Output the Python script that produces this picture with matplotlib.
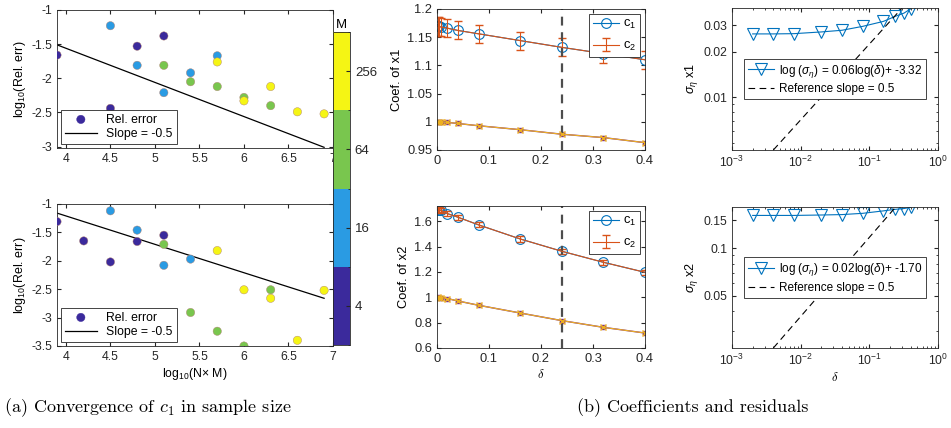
import numpy as np
import matplotlib
matplotlib.use('Agg')
import matplotlib.pyplot as plt
from matplotlib.colors import ListedColormap, BoundaryNorm
from matplotlib.ticker import FixedLocator, FuncFormatter, NullFormatter, LogLocator

plt.rcParams['font.family'] = ['Liberation Sans', 'DejaVu Sans']
plt.rcParams['mathtext.fontset'] = 'custom'
plt.rcParams['mathtext.rm'] = 'Liberation Sans'
plt.rcParams['mathtext.it'] = 'Liberation Sans:italic'
plt.rcParams['axes.unicode_minus'] = False
plt.rcParams['xtick.direction'] = 'in'
plt.rcParams['ytick.direction'] = 'in'
plt.rcParams['xtick.top'] = True
plt.rcParams['ytick.right'] = True
plt.rcParams['xtick.major.size'] = 3
plt.rcParams['ytick.major.size'] = 3
plt.rcParams['xtick.minor.size'] = 1.5
plt.rcParams['ytick.minor.size'] = 1.5
plt.rcParams['xtick.color'] = '#262626'
plt.rcParams['ytick.color'] = '#262626'
plt.rcParams['axes.edgecolor'] = '#262626'
plt.rcParams['axes.linewidth'] = 0.6

# ---- (a) convergence data: log10(N*M), log10(rel err), M
top_logNM = [3.9, 4.5, 4.5, 4.8, 4.8, 5.1, 5.1, 5.1, 5.4, 5.4,
             5.7, 5.7, 5.7, 6.0, 6.0, 6.3, 6.3, 6.6, 6.9]
top_logerr = [-1.66, -1.23, -2.44, -1.53, -1.81, -1.38, -1.81, -2.21, -1.92, -2.05,
              -1.67, -1.76, -2.12, -2.28, -2.33, -2.12, -2.40, -2.49, -2.52]
top_M = [4, 16, 4, 4, 16, 4, 64, 16, 16, 64,
         16, 256, 64, 64, 256, 256, 64, 256, 256]
top_fit_x = [3.9, 6.9]
top_fit_y = [-1.51, -3.01]

bot_logNM = [3.9, 4.2, 4.5, 4.5, 4.8, 4.8, 5.1, 5.1, 5.1, 5.4,
             5.4, 5.7, 5.7, 6.0, 6.0, 6.3, 6.3, 6.6, 6.9]
bot_logerr = [-1.31, -1.65, -2.02, -1.12, -1.46, -1.66, -1.55, -1.71, -2.08, -1.97,
              -2.91, -1.82, -3.24, -2.51, -3.50, -2.51, -2.66, -3.40, -2.52]
bot_M = [4, 4, 4, 16, 16, 4, 4, 64, 16, 16,
         64, 256, 64, 256, 64, 64, 256, 256, 256]
bot_fit_x = [3.9, 6.9]
bot_fit_y = [-1.16, -2.66]

M_levels = ['4', '16', '64', '256']
M_colors = ['#3b2a9c', '#2a9be3', '#79c64e', '#f5f514']

# ---- (b) coefficients and residuals
delta = [0.002, 0.004, 0.008, 0.02, 0.04, 0.08, 0.16, 0.24, 0.32, 0.4]
x1_c1 = [1.169, 1.169, 1.168, 1.166, 1.162, 1.156, 1.144, 1.132, 1.121, 1.110]
x1_c1_err = [0.017, 0.017, 0.016, 0.016, 0.016, 0.016, 0.016, 0.016, 0.016, 0.016]
x1_c2 = [1.0, 1.0, 0.9995, 0.999, 0.997, 0.993, 0.986, 0.978, 0.972, 0.963]
x1_c2_err = [0.002] * 10
x2_c1 = [1.690, 1.689, 1.686, 1.660, 1.632, 1.571, 1.460, 1.363, 1.276, 1.197]
x2_c1_err = [0.02] * 10
x2_c2 = [1.0, 0.998, 0.996, 0.99, 0.971, 0.937, 0.876, 0.816, 0.763, 0.718]
x2_c2_err = [0.008] * 10
delta_mark = 0.24

sig_x1 = [0.0263, 0.0263, 0.0264, 0.0271, 0.0278, 0.0295, 0.0318, 0.0344, 0.0361, 0.0385]
sig_x2 = [0.161, 0.161, 0.161, 0.162, 0.163, 0.166, 0.172, 0.176, 0.178, 0.181]
ref1_x, ref1_y = [0.004, 0.30], [0.0045, 0.039]
ref2_x, ref2_y = [0.004, 0.25], [0.0234, 0.185]
fit1_label = r'log ($\sigma_\eta$) = 0.06log($\delta$)+ -3.32'
fit2_label = r'log ($\sigma_\eta$) = 0.02log($\delta$)+ -1.70'

blue, orange, yellow, purple = '#0072BD', '#D95319', '#EDB120', '#7E2F8E'

W, H = 951, 428
fig = plt.figure(figsize=(W / 100, H / 100), dpi=100)


def box(x0, y0, x1, y1):
    return [x0 / W, 1 - y1 / H, (x1 - x0) / W, (y1 - y0) / H]


gfmt = FuncFormatter(lambda v, p: '%g' % round(v, 4))
cmap = ListedColormap(M_colors)
norm = BoundaryNorm([0, 1, 2, 3, 4], 4)


def conv_panel(ax, xs, ys, Ms, fx, fy, ylim, yticks):
    idx = np.log2(Ms) / 2 - 1 + 0.5
    ax.scatter(xs, ys, c=idx, cmap=cmap, norm=norm, s=36,
               edgecolors='#b08070', linewidths=0.3, zorder=3, label='Rel. error')
    ax.plot(fx, fy, color='k', lw=0.9, label='Slope = -0.5')
    ax.set_xlim(3.9, 7)
    ax.set_ylim(*ylim)
    ax.set_xticks([4, 4.5, 5, 5.5, 6, 6.5, 7])
    ax.set_yticks(yticks)
    ax.xaxis.set_major_formatter(gfmt)
    ax.yaxis.set_major_formatter(gfmt)
    ax.tick_params(labelsize=8.8)
    ax.set_ylabel(r'log$_{10}$(Rel. err)', fontsize=9, labelpad=2)
    leg = ax.legend(loc='lower left', fontsize=8.8, fancybox=False,
                    edgecolor='#262626', framealpha=1, borderaxespad=0.35,
                    handlelength=2.6, borderpad=0.3, labelspacing=0.2)
    leg.get_frame().set_linewidth(0.6)
    leg.legend_handles[0].set_color(M_colors[0])


ax1 = fig.add_axes(box(57, 10, 333, 148))
conv_panel(ax1, top_logNM, top_logerr, top_M, top_fit_x, top_fit_y,
           (-3.02, -1), [-3, -2.5, -2, -1.5, -1])
ax2 = fig.add_axes(box(57, 204, 333, 346))
conv_panel(ax2, bot_logNM, bot_logerr, bot_M, bot_fit_x, bot_fit_y,
           (-3.5, -1), [-3.5, -3, -2.5, -2, -1.5, -1])
ax2.set_xlabel(r'log$_{10}$(N$\times$ M)', fontsize=8.8, labelpad=2)

cax = fig.add_axes(box(333, 32, 350, 345))
sm = plt.cm.ScalarMappable(cmap=cmap, norm=norm)
cb = fig.colorbar(sm, cax=cax, ticks=[0.5, 1.5, 2.5, 3.5])
cb.ax.set_yticklabels(M_levels)
cb.ax.tick_params(labelsize=9.5, direction='in', length=3, left=False)
cb.outline.set_linewidth(0.6)
cax.set_title('M', fontsize=9.5, pad=3)


def coef_panel(ax, c1, c1e, c2, c2e, ylim, yticks, ylabel):
    ax.plot(delta, c1, color=blue, marker='o', mfc='none', ms=7, mew=0.8,
            lw=0.8, label=r'c$_1$')
    ax.errorbar(delta, c1, yerr=c1e, color=orange, lw=0.8, capsize=3,
                elinewidth=0.8, label=r'c$_2$')
    ax.errorbar(delta, c2, yerr=c2e, color=yellow, lw=0.8, marker='x',
                ms=5, capsize=2, elinewidth=0.6)
    ax.plot(delta, c2, color=purple, lw=1.0, marker='s', ms=2.5)
    ax.axvline(delta_mark, color='#4d4d4d', lw=1.6, ls=(0, (4, 3)))
    ax.set_xlim(0, 0.4)
    ax.set_ylim(*ylim)
    ax.set_xticks([0, 0.1, 0.2, 0.3, 0.4])
    ax.set_yticks(yticks)
    ax.xaxis.set_major_formatter(gfmt)
    ax.yaxis.set_major_formatter(gfmt)
    ax.tick_params(labelsize=9.3)
    ax.set_ylabel(ylabel, fontsize=9.3, labelpad=3)
    leg = ax.legend(loc='upper right', fontsize=9.3, fancybox=False,
                    edgecolor='#262626', framealpha=1, borderaxespad=0.4,
                    handlelength=2.0, handletextpad=0.3, borderpad=0.3,
                    labelspacing=0.7)
    leg.get_frame().set_linewidth(0.6)


ax3 = fig.add_axes(box(437, 9, 645, 150))
coef_panel(ax3, x1_c1, x1_c1_err, x1_c2, x1_c2_err, (0.95, 1.2),
           [0.95, 1, 1.05, 1.1, 1.15, 1.2], 'Coef. of x1')
ax4 = fig.add_axes(box(437, 206, 645, 348))
coef_panel(ax4, x2_c1, x2_c1_err, x2_c2, x2_c2_err, (0.6, 1.72),
           [0.6, 0.8, 1, 1.2, 1.4, 1.6], 'Coef. of x2')
ax4.set_xlabel(r'$\delta$', fontsize=9, math_fontfamily='cm', labelpad=2)


def resid_panel(ax, sig, rx, ry, ylim, yticks, ylabel, label):
    ax.plot(delta, sig, color=blue, marker='v', mfc='none', ms=8, mew=0.8,
            lw=0.8, label=label)
    ax.plot(rx, ry, color='k', lw=0.8, ls=(0, (6, 4)), label='Reference slope = 0.5')
    ax.set_xscale('log')
    ax.set_yscale('log')
    ax.set_xlim(1e-3, 1)
    ax.set_ylim(*ylim)
    ax.xaxis.set_major_locator(FixedLocator([1e-3, 1e-2, 1e-1, 1]))
    ax.xaxis.set_minor_locator(LogLocator(subs=np.arange(2, 10)))
    ax.xaxis.set_minor_formatter(NullFormatter())
    ax.yaxis.set_major_locator(FixedLocator(yticks))
    ax.yaxis.set_major_formatter(gfmt)
    ax.yaxis.set_minor_locator(LogLocator(subs=np.arange(1, 10)))
    ax.yaxis.set_minor_formatter(NullFormatter())
    ax.tick_params(labelsize=8.8)
    ax.set_ylabel(ylabel, fontsize=9, labelpad=2)
    leg = ax.legend(loc='center', bbox_to_anchor=(0.5, 0.5), fontsize=8.5,
                    fancybox=False, edgecolor='#262626', framealpha=1,
                    handlelength=2.2, handletextpad=0.4, borderpad=0.35,
                    labelspacing=0.3)
    leg.get_frame().set_linewidth(0.6)


ax5 = fig.add_axes(box(732, 8, 938, 150))
resid_panel(ax5, sig_x1, ref1_x, ref1_y, (0.0045, 0.039), [0.01, 0.02, 0.03],
            r'$\sigma_\eta$ x1', fit1_label)
ax6 = fig.add_axes(box(732, 207, 938, 348))
resid_panel(ax6, sig_x2, ref2_x, ref2_y, (0.0234, 0.182), [0.05, 0.1, 0.15],
            r'$\sigma_\eta$ x2', fit2_label)
ax6.set_xlabel(r'$\delta$', fontsize=9, math_fontfamily='cm', labelpad=2)

fig.text(148 / W, 1 - 408 / H, r'(a) Convergence of $c_1$ in sample size',
         family='cmr10', math_fontfamily='cm', fontsize=13, ha='center', va='center')
fig.text(693 / W, 1 - 408 / H, '(b) Coefficients and residuals',
         family='cmr10', math_fontfamily='cm', fontsize=13, ha='center', va='center')

fig.savefig('out.png', dpi=100)
